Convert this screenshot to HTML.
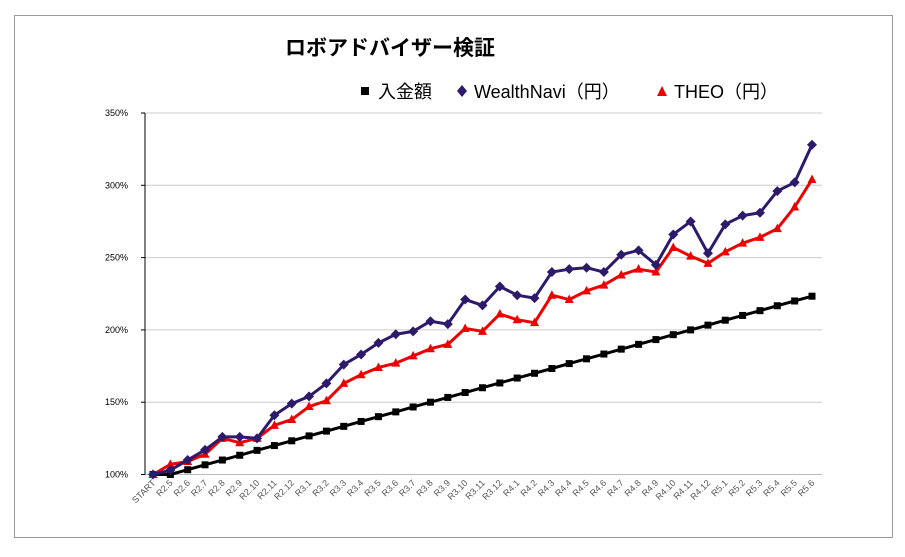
<!DOCTYPE html>
<html><head><meta charset="utf-8"><style>
body{margin:0;background:#fff;width:905px;height:552px;overflow:hidden;font-family:"Liberation Sans","Noto Sans CJK JP",sans-serif}
</style></head><body>
<svg id="c" width="905" height="552" xmlns="http://www.w3.org/2000/svg">
<rect x="14.5" y="15.5" width="878" height="522" fill="#fff" stroke="#999"/>
<text x="285" y="55" font-size="21" font-weight="bold" font-family="Liberation Sans,Noto Sans CJK JP,sans-serif">ロボアドバイザー検証</text>
<g font-size="18" font-family="Liberation Sans,Noto Sans CJK JP,sans-serif">
<g><rect x="361" y="87" width="8" height="8" fill="#000"/><text x="378" y="98">入金額</text></g>
<g><path d="M462 85 L467 91 L462 97 L457 91Z" fill="#2e1a6b"/><text x="474" y="98">WealthNavi（円）</text></g>
<g><path d="M662 86 L667 96 L657 96Z" fill="#e00"/><text x="674" y="98">THEO（円）</text></g>
</g>
<g id="plot"></g>
</svg>
<script>
const categories=["START","R2.5","R2.6","R2.7","R2.8","R2.9","R2.10","R2.11","R2.12","R3.1","R3.2","R3.3","R3.4","R3.5","R3.6","R3.7","R3.8","R3.9","R3.10","R3.11","R3.12","R4.1","R4.2","R4.3","R4.4","R4.5","R4.6","R4.7","R4.8","R4.9","R4.10","R4.11","R4.12","R5.1","R5.2","R5.3","R5.4","R5.5","R5.6"];
const deposit=[100,100,103.3,106.7,110,113.3,116.7,120,123.3,126.7,130,133.3,136.7,140,143.3,146.7,150,153.3,156.7,160,163.3,166.7,170,173.3,176.7,180,183.3,186.7,190,193.3,196.7,200,203.3,206.7,210,213.3,216.7,220,223.3];
const wealthnavi=[100,103,110,117,126,126,125,141,149,154,163,176,183,191,197,199,206,204,221,217,230,224,222,240,242,243,240,252,255,245,266,275,253,273,279,281,296,302,328];
const theo=[100,107,109,114,125,122,125,134,138,147,151,163,169,174,177,182,187,190,201,199,211,207,205,224,221,227,231,238,242,240,257,251,246,254,260,264,270,285,304];
const yTicks=[100,150,200,250,300,350];
const NS="http://www.w3.org/2000/svg";
const g=document.getElementById('plot');
const X0=153,X1=812,Y0=474.5,Y1=113,L=145,R=822;
const xs=i=>X0+i*(X1-X0)/(categories.length-1);
const ys=v=>Y0-(v-100)*(Y0-Y1)/250;
function mk(t,a){const e=document.createElementNS(NS,t);for(const k in a)e.setAttribute(k,a[k]);g.appendChild(e);return e;}
yTicks.forEach(t=>{
 const y=ys(t);
 const l=mk('line',{x1:L,x2:R,y1:y,y2:y,stroke:t===100?'#bbb':'#ccc','stroke-width':1});
 
 
 const tk=mk('line',{x1:L-4,x2:L,y1:y,y2:y,stroke:'#000'});
 
 
 const tx=mk('text',{x:L-17,y:y+3,'font-size':9,'text-anchor':'end',fill:'#000'});
 tx.textContent=t+'%';
 
 
});
const ax=mk('line',{x1:L,x2:L,y1:Y1,y2:Y0,stroke:'#000'});


categories.forEach((c,i)=>{
 const x=xs(i);
 const t=mk('text',{x:x+3,y:Y0+9,'font-size':9,'text-anchor':'end',fill:'#555',transform:`rotate(-45 ${x+3} ${Y0+9})`});
 t.textContent=c;
 
 
});
function series(vals,color,shape,name){
 const p=mk('polyline',{points:vals.map((v,i)=>xs(i)+','+ys(v)).join(' '),fill:'none',stroke:color,'stroke-width':3,'stroke-linejoin':'round'});
 
 
 vals.forEach((v,i)=>{
  const x=xs(i),y=ys(v);let m;
  if(shape==='sq')m=mk('rect',{x:x-3.5,y:y-3.5,width:7,height:7,fill:color});
  else if(shape==='dia')m=mk('path',{d:`M${x} ${y-5}L${x+5} ${y}L${x} ${y+5}L${x-5} ${y}Z`,fill:color});
  else m=mk('path',{d:`M${x} ${y-5}L${x+4.5} ${y+3.5}L${x-4.5} ${y+3.5}Z`,fill:color});
  
  
 });
}
series(deposit,'#000','sq','deposit');
series(theo,'#e00','tri','theo');
series(wealthnavi,'#2e1a6b','dia','wealthnavi');
</script>
</body></html>
